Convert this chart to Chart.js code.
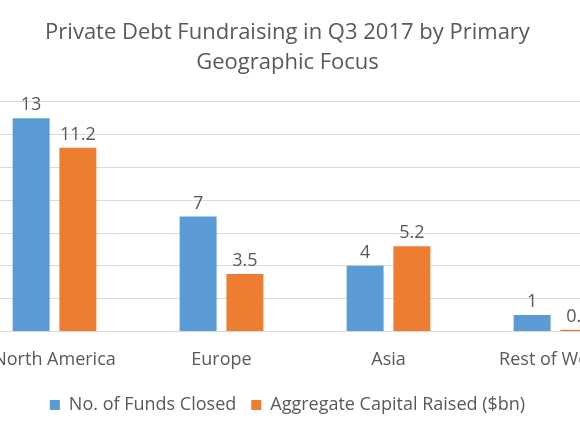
<!DOCTYPE html>
<html>
<head>
<meta charset="utf-8">
<style>
  html, body { margin: 0; padding: 0; overflow: hidden; background: #fff; }
  #wrap { position: absolute; left: -64px; top: 0; width: 703px; height: 435px; }
</style>
</head>
<body>
<div id="wrap"><canvas id="myChart"></canvas></div>
<script src="https://cdn.jsdelivr.net/npm/chart.js"></script>
<script>
  const regions = ['North America', 'Europe', 'Asia', 'Rest of World'];
  const fundsClosed = [13, 7, 4, 1];
  const capitalRaised = [11.2, 3.5, 5.2, 0.1];
  const titleLines = ['Private Debt Fundraising in Q3 2017 by Primary', 'Geographic Focus'];

  const grey = '#595959';
  const font = '"Open Sans", Lato, sans-serif';

  // value labels on top of each bar
  const barLabels = {
    id: 'barLabels',
    afterDatasetsDraw(chart) {
      const c = chart.ctx;
      c.save();
      c.fillStyle = grey;
      c.font = '18px ' + font;
      c.textAlign = 'center';
      c.textBaseline = 'bottom';
      chart.data.datasets.forEach((ds, i) => {
        chart.getDatasetMeta(i).data.forEach((bar, j) => {
          c.fillText(ds.data[j], bar.x, bar.y - 4);
        });
      });
      c.restore();
    }
  };

  new Chart(document.getElementById('myChart'), {
    type: 'bar',
    data: {
      labels: regions,
      datasets: [
        {
          label: 'No. of Funds Closed',
          data: fundsClosed,
          backgroundColor: '#5B9BD5',
          barPercentage: 0.79,
          categoryPercentage: 0.56
        },
        {
          label: 'Aggregate Capital Raised ($bn)',
          data: capitalRaised,
          backgroundColor: '#ED7D31',
          barPercentage: 0.79,
          categoryPercentage: 0.56
        }
      ]
    },
    options: {
      responsive: true,
      maintainAspectRatio: false,
      animation: false,
      layout: { padding: { left: 0, right: 0, top: 0, bottom: 11 } },
      plugins: {
        title: {
          display: true,
          text: titleLines,
          color: grey,
          font: { family: font, size: 22, weight: 'normal', lineHeight: 1.36 },
          padding: { top: 18, bottom: 24 }
        },
        legend: {
          position: 'bottom',
          labels: {
            color: grey,
            font: { family: font, size: 18 },
            boxWidth: 10,
            boxHeight: 10,
            padding: 15
          }
        },
        tooltip: { enabled: false }
      },
      scales: {
        x: {
          grid: { display: false },
          border: { color: '#d9d9d9' },
          ticks: { color: grey, font: { family: font, size: 18 }, padding: 10 }
        },
        y: {
          min: 0,
          max: 14,
          afterFit(scale) { scale.width = 35; },
          grid: { color: '#d9d9d9', drawTicks: false },
          border: { display: false },
          ticks: { stepSize: 2, display: false }
        }
      }
    },
    plugins: [barLabels]
  });
</script>
</body>
</html>
